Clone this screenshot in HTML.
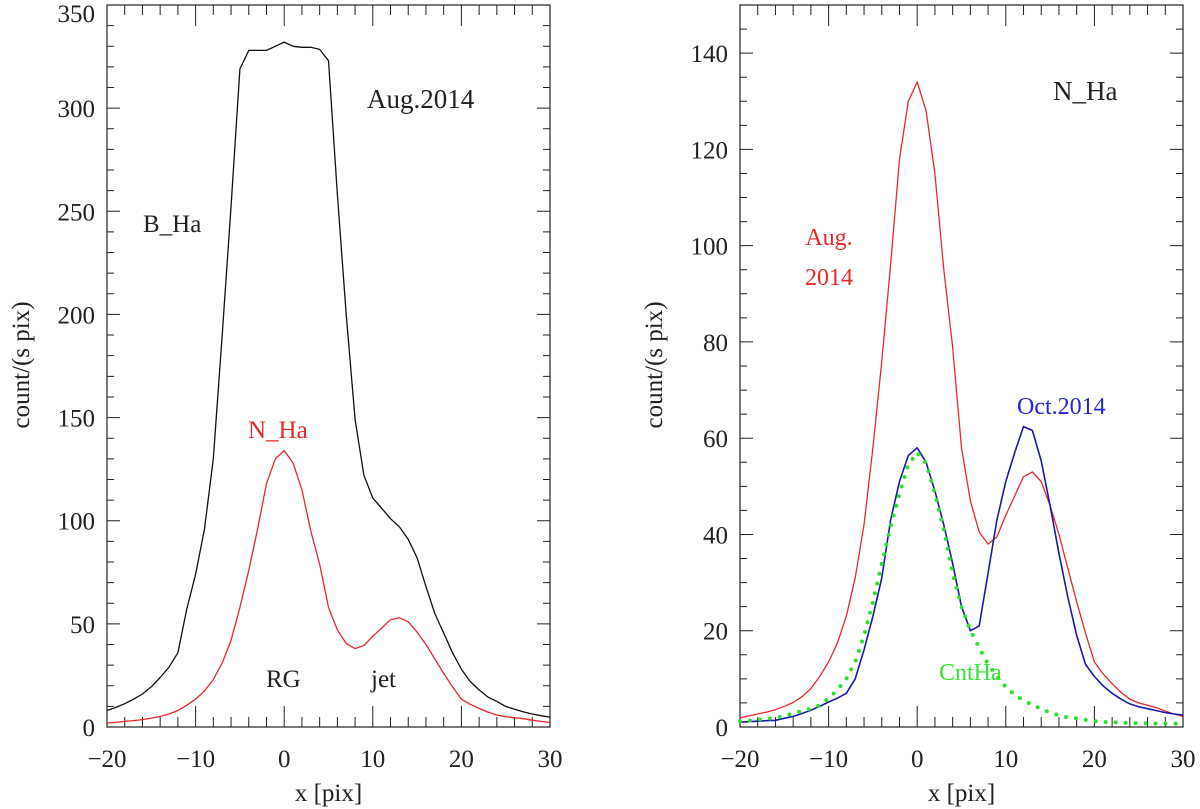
<!DOCTYPE html>
<html><head><meta charset="utf-8"><style>
html,body{margin:0;padding:0;background:#fff}
svg{display:block}
text{font-family:"Liberation Serif","DejaVu Serif",serif;fill:#222}
</style></head><body>
<svg id="chart" width="1200" height="809" viewBox="0 0 1200 809">
<g id="left"></g>
<g id="right"></g>
<text x="367" y="108" font-size="27">Aug.2014</text>
<text x="143" y="232" font-size="25">B_Ha</text>
<text x="248" y="438" font-size="25" style="fill:#e8282a">N_Ha</text>
<text x="266" y="687" font-size="25">RG</text>
<text x="371" y="687" font-size="25">jet</text>
<text x="1053" y="100" font-size="27">N_Ha</text>
<text x="829" y="245" font-size="24" text-anchor="middle" style="fill:#e8282a">Aug.</text>
<text x="829" y="285" font-size="24" text-anchor="middle" style="fill:#e8282a">2014</text>
<text x="1017" y="414" font-size="24" style="fill:#2626d8">Oct.2014</text>
<text x="939" y="680" font-size="24" style="fill:#33e533">CntHa</text>
</svg>
<script>
const xs=[-20,-19,-18,-17,-16,-15,-14,-13,-12,-11,-10,-9,-8,-7,-6,-5,-4,-3,-2,-1,0,1,2,3,4,5,6,7,8,9,10,11,12,13,14,15,16,17,18,19,20,21,22,23,24,25,26,27,28,29,30];
const bHaAug=[8,9.5,11.3,13.5,16,19.5,24,29,36,57,74,96,130,190,252,319,328,328,328,330,332,330,329.5,329.5,328.5,323,258,200,149,122,111,106,101,97,91,82,68,55,45.5,36,28,22,18,14.5,12.4,10,8.6,7.3,6.3,5.5,4.8];
const nHaAug=[1.9,2.3,2.7,3.1,3.6,4.3,5.1,6.3,8,10.5,13.5,17.5,23,31,42,58,76,96,118,130,134,128,115,95,79,58,47,40.5,38,39.5,44,48,52,53,51,46,40,33,26,19.5,13.5,11,9,7.2,5.8,5,4.5,4,3.3,2.7,2.2];
const nHaOct=[1,1.1,1.2,1.3,1.4,1.8,2.2,2.8,3.5,4.3,5.2,6,7,10,16,23,31,43,51,56.4,58,55,49,42,34,25,20,21,32,43,51,57,62.4,61.6,55.3,46,36,27,19,13,10.5,8.5,7,5.8,4.8,4.2,3.8,3.4,3,2.7,2.5];
const cntHa=[1.2,1.3,1.5,1.7,1.9,2.3,2.8,3.3,3.8,4.5,6,7.7,10,13.5,19,26,34,41.6,48.5,54.5,57,54.8,48.5,41,32,25,20,16.5,13,10.5,8.3,6.7,5.5,4.6,3.8,3,2.4,2,1.8,1.5,1.2,1.05,1,0.9,0.8,0.8,0.75,0.7,0.7,0.7,0.65];
const xTickLabels=[-20,-10,0,10,20,30];
const leftYTicks=[0,50,100,150,200,250,300,350];
const rightYTicks=[0,20,40,60,80,100,120,140];

const NS="http://www.w3.org/2000/svg";
function mk(tag,attrs,parent){const e=document.createElementNS(NS,tag);for(const k in attrs)e.setAttribute(k,attrs[k]);parent.appendChild(e);return e;}

function panel(g,L,R,T,B,ymax,yMajorStep,yMinorStep,yTicks,name){
  const sx=v=>L+(v+20)/50*(R-L);
  const sy=v=>B-v/ymax*(B-T);
  const frame=mk('rect',{x:L,y:T,width:R-L,height:B-T,fill:'none',stroke:'#222','stroke-width':1.2},g);
  
  
  let d='';
  for(let v=-18;v<30;v+=2){const big=(v%10===0);const len=big?21:10;const X=sx(v);d+=`M${X},${B}v${-len}M${X},${T}v${len}`;}
  for(let v=yMinorStep;v<ymax;v+=yMinorStep){const big=(Math.abs(v%yMajorStep)<1e-6);const len=big?13:7;const Y=sy(v);d+=`M${L},${Y}h${len}M${R},${Y}h${-len}`;}
  const ticks=mk('path',{d:d,stroke:'#222','stroke-width':1,fill:'none'},g);
  
  
  xTickLabels.forEach(v=>{
    const t=mk('text',{x:sx(v),y:767,'font-size':25,'text-anchor':'middle'},g);
    t.textContent=(v<0?'\u2212':'')+Math.abs(v);
    
    
  });
  yTicks.forEach(v=>{
    const t=mk('text',{x:L-12,y:Math.max(sy(v)+9,22),'font-size':25,'text-anchor':'end'},g);
    t.textContent=v;
    
    
  });
  const xt=mk('text',{x:(L+R)/2,y:801,'font-size':25,'text-anchor':'middle'},g);
  xt.textContent='x [pix]';
  
  
  const yt=mk('text',{x:0,y:0,'font-size':25,'text-anchor':'middle',transform:`translate(${L-78},365) rotate(-90)`},g);
  yt.textContent='count/(s pix)';
  
  
  return {sx,sy};
}
function line(g,ax,ys,color,w,dash,name){
  const pts=xs.map((x,i)=>ax.sx(x).toFixed(1)+','+ax.sy(ys[i]).toFixed(1)).join(' ');
  const a={points:pts,fill:'none',stroke:color,'stroke-width':w,'stroke-linejoin':'round'};
  if(dash){a['stroke-dasharray']=dash;a['stroke-linecap']='round';}
  const p=mk('polyline',a,g);
  
  
}
const gl=document.getElementById('left'),gr=document.getElementById('right');
const axL=panel(gl,107,550,5,727,350,50,10,leftYTicks,'left');
line(gl,axL,bHaAug,'#111',1.3,null,'b-ha-aug-line');
line(gl,axL,nHaAug,'#e8282a',1.3,null,'n-ha-aug-line-left');
const axR=panel(gr,740,1183,5,727,150,20,5,rightYTicks,'right');
line(gr,axR,nHaAug,'#e8282a',1.3,null,'n-ha-aug-line-right');
line(gr,axR,nHaOct,'#1a1aa8',1.6,null,'n-ha-oct-line');
line(gr,axR,cntHa,'#2ee02e',4,'0 10','cntha-dotted-line');
</script>
</body></html>
